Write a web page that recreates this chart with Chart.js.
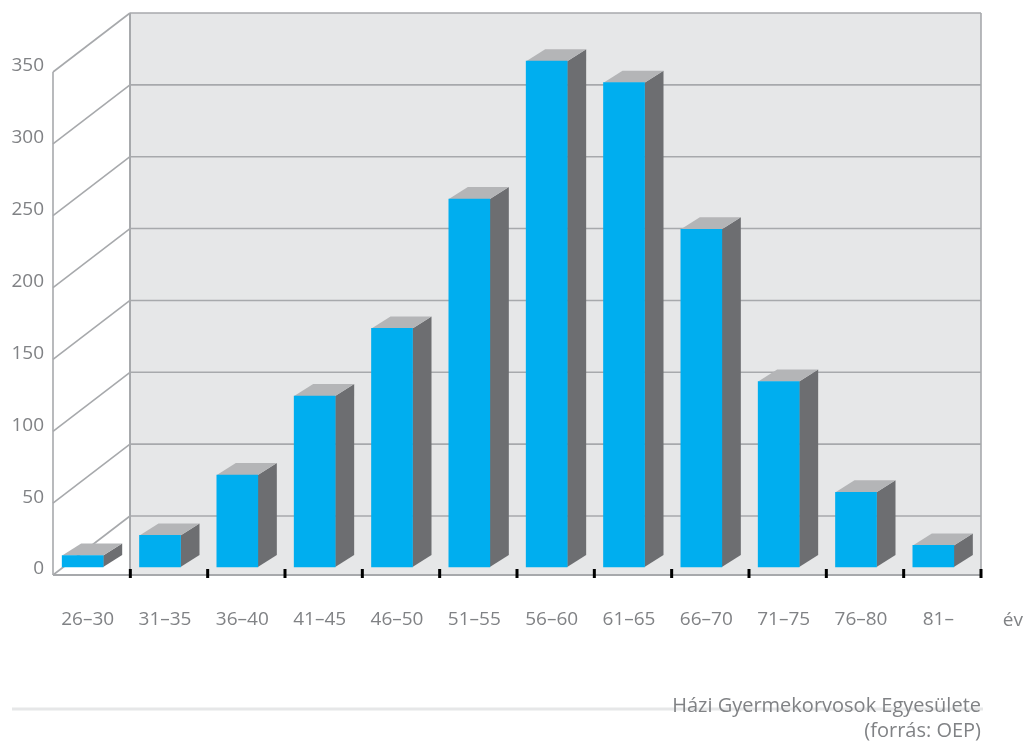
<!DOCTYPE html>
<html lang="hu">
<head>
<meta charset="utf-8">
<title>Házi gyermekorvosok korcsoportonként</title>
<style>
  html, body { margin: 0; padding: 0; background: #fff; }
  canvas { display: block; clip-path: inset(0 0 0 12px); }
</style>
<script src="https://cdn.jsdelivr.net/npm/chart.js@4"></script>
</head>
<body>
<canvas id="chart" width="1027" height="742"></canvas>
<script>
// Age bands and the number of paediatricians in each
const ageBands = ['26–30', '31–35', '36–40', '41–45', '46–50', '51–55', '56–60', '61–65', '66–70', '71–75', '76–80', '81–'];
const doctorCounts = [8, 22, 64, 119, 166, 256, 352, 337, 235, 129, 52, 15];
const valueTicks = [0, 50, 100, 150, 200, 250, 300, 350];
const axisUnit = 'év';
const sourceLines = ['Házi Gyermekorvosok Egyesülete', '(forrás: OEP)'];

const FONT = '"Open Sans", sans-serif';
const TEXT = '#808285';
const LINE = '#a7a9ac';
const WALL = '#e6e7e8';
const BLUE = '#00aeef';
const SIDE = '#6d6e71';
const TOP = '#b4b5b7';

// Offsets of the drawn box relative to the plane the bars stand on
const FLOOR_DROP = 8;        // front floor edge sits below the bar bases
const BOX_DEPTH = { x: 77, y: -59 };
const BAR_DEPTH = { x: 19, y: -12 };
const AXIS_SHIFT = 9;        // tick marks sit right of the bar category bands

function poly(ctx, pts, fill) {
  ctx.beginPath();
  pts.forEach((p, i) => (i ? ctx.lineTo(p[0], p[1]) : ctx.moveTo(p[0], p[1])));
  ctx.closePath();
  ctx.fillStyle = fill;
  ctx.fill();
}

function seg(ctx, x1, y1, x2, y2, color, width) {
  ctx.beginPath();
  ctx.moveTo(x1, y1);
  ctx.lineTo(x2, y2);
  ctx.strokeStyle = color;
  ctx.lineWidth = width;
  ctx.stroke();
}

// Back wall, side wall lines, floor and tick marks of the 3D box
const boxPlugin = {
  id: 'box3d',
  beforeDatasetsDraw(chart) {
    const { ctx } = chart;
    const x = chart.scales.x;
    const y = chart.scales.y;
    const step = (x.right - x.left) / ageBands.length;
    const frontX = x.left + AXIS_SHIFT;
    const backX = frontX + BOX_DEPTH.x;
    const rightX = frontX + step * ageBands.length;
    const floorY = y.getPixelForValue(0) + FLOOR_DROP;
    const topFrontY = y.getPixelForValue(valueTicks[valueTicks.length - 1]) + FLOOR_DROP;

    ctx.save();
    ctx.fillStyle = WALL;
    ctx.fillRect(backX, topFrontY + BOX_DEPTH.y, rightX - backX, floorY - topFrontY - BOX_DEPTH.y);

    valueTicks.forEach((v) => {
      const fy = y.getPixelForValue(v) + FLOOR_DROP;
      const by = fy + BOX_DEPTH.y;
      seg(ctx, frontX, fy, backX, by, LINE, 1.6);
      seg(ctx, backX, by, rightX, by, LINE, 1.6);
    });

    seg(ctx, frontX, topFrontY, frontX, floorY, LINE, 1.6);
    seg(ctx, backX, topFrontY + BOX_DEPTH.y, backX, floorY, LINE, 2);
    seg(ctx, rightX, topFrontY + BOX_DEPTH.y, rightX, floorY, LINE, 1.6);
    seg(ctx, frontX, floorY, rightX, floorY, LINE, 2);

    for (let i = 1; i <= ageBands.length; i++) {
      const tx = frontX + step * i;
      seg(ctx, tx, floorY - 6, tx, floorY + 3, '#000', 3);
    }

    // Side and top faces of each bar
    chart.getDatasetMeta(0).data.forEach((bar) => {
      const l = bar.x - bar.width / 2;
      const r = bar.x + bar.width / 2;
      const t = bar.y;
      const b = bar.base;
      const dx = BAR_DEPTH.x;
      const dy = BAR_DEPTH.y;
      poly(ctx, [[r, t], [r + dx, t + dy], [r + dx, b + dy], [r, b]], SIDE);
      poly(ctx, [[l, t], [l + dx, t + dy], [r + dx, t + dy], [r, t]], TOP);
    });
    ctx.restore();
  },
  afterDraw(chart) {
    const { ctx } = chart;
    ctx.save();
    seg(ctx, 12, 709, 983, 709, WALL, 3);
    ctx.fillStyle = TEXT;
    ctx.textBaseline = 'alphabetic';
    ctx.textAlign = 'right';
    ctx.font = '19px ' + FONT;
    ctx.fillText(axisUnit, 1023, 626);
    ctx.font = '20px ' + FONT;
    ctx.fillText(sourceLines[0], 981, 712);
    ctx.fillText(sourceLines[1], 981, 737);
    ctx.restore();
  }
};

new Chart(document.getElementById('chart'), {
  type: 'bar',
  data: {
    labels: ageBands,
    datasets: [{
      data: doctorCounts,
      backgroundColor: BLUE,
      borderWidth: 0,
      barThickness: 41,
      clip: false
    }]
  },
  options: {
    responsive: false,
    animation: false,
    layout: { autoPadding: false, padding: { top: 64, right: 55, bottom: 0, left: 0 } },
    plugins: { legend: { display: false }, tooltip: { enabled: false } },
    scales: {
      x: {
        grid: { display: false },
        border: { display: false },
        ticks: {
          color: TEXT,
          font: { family: FONT, size: 19 },
          padding: 33,
          labelOffset: 5,
          maxRotation: 0,
          autoSkip: false
        },
        afterFit(scale) { scale.height = 175; }
      },
      y: {
        min: 0,
        max: 350,
        grid: { display: false, drawTicks: false },
        border: { display: false },
        afterBuildTicks(scale) { scale.ticks = valueTicks.map((value) => ({ value })); },
        ticks: {
          color: TEXT,
          font: { family: FONT, size: 19 },
          padding: 0,
          labelOffset: 2
        },
        afterFit(scale) { scale.width = 44; }
      }
    }
  },
  plugins: [boxPlugin]
});
</script>
</body>
</html>
